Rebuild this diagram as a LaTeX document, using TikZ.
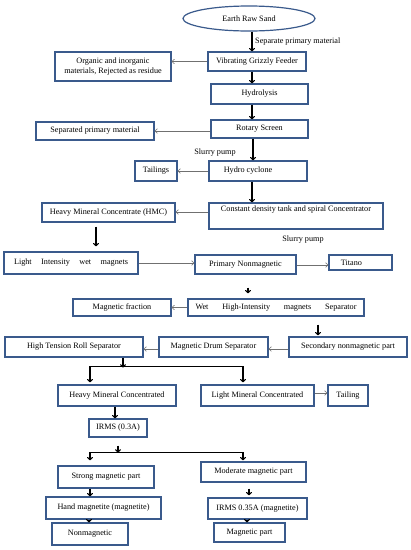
\documentclass[tikz,border=0pt]{standalone}
\usepackage{fontspec}
\setmainfont{Liberation Serif}
\usetikzlibrary{shapes.geometric,arrows.meta}
\definecolor{boxblue}{HTML}{3A5A8C}
\definecolor{thinarrow}{HTML}{707070}
\tikzset{
  box/.style={draw=boxblue,line width=1.2pt,inner sep=0pt,align=center,font=\fontsize{8.2}{10}\selectfont},
  va/.style={draw=black,line width=1.1pt,-{To[length=3.5pt,width=6pt]}},
  ha/.style={draw=thinarrow,line width=0.6pt,-{To[length=3pt,width=5pt]}},
  bar/.style={draw=black,line width=1.2pt},
  lbl/.style={inner sep=0pt,font=\fontsize{8.2}{10}\selectfont}
}
\begin{document}
\begin{tikzpicture}[x=1pt,y=-1pt]
\useasboundingbox (0,0) rectangle (411,550);
\fill[white] (0,0) rectangle (411,550);
% nodes
\node[box,ellipse,minimum width=132,minimum height=25] (ers) at (249,18.5) {Earth Raw Sand};
\node[box,minimum width=98,minimum height=19] (vgf) at (257,61.5) {Vibrating Grizzly Feeder};
\node[box,minimum width=116,minimum height=29] (org) at (113,66.5) {Organic and inorganic\\materials, Rejected as residue};
\node[box,minimum width=97,minimum height=20] (hyd) at (259.5,94) {Hydrolysis};
\node[box,minimum width=97,minimum height=18] (rot) at (259.5,129) {Rotary Screen};
\node[box,minimum width=118,minimum height=18] (sep) at (95,131) {Separated primary material};
\node[box,minimum width=98,minimum height=20] (hc) at (258,171) {\hspace*{-20pt}Hydro cyclone};
\node[box,minimum width=42,minimum height=20] (tail) at (156,171) {Tailings};
\node[box,minimum width=174,minimum height=26] (cdt) at (296,216) {Constant density tank and spiral Concentrator\\[4pt]};
\node[box,minimum width=133,minimum height=19] (hmc) at (108.5,212.5) {Heavy Mineral Concentrate (HMC)};
\node[box,minimum width=134,minimum height=22] (liw) at (71,263) {\makebox[114pt][s]{Light Intensity wet magnets}};
\node[box,minimum width=101,minimum height=19] (pnm) at (245.5,264.5) {Primary Nonmagnetic};
\node[box,minimum width=63,minimum height=15] (tit) at (360.5,262.5) {\hspace*{-18pt}Titano};
\node[box,minimum width=176,minimum height=17] (whi) at (276,307.5) {\makebox[161pt][s]{Wet High-Intensity magnets Separator}};
\node[box,minimum width=98,minimum height=17] (mf) at (122,307.5) {Magnetic fraction};
\node[box,minimum width=118,minimum height=20] (snm) at (348,347) {Secondary nonmagnetic part};
\node[box,minimum width=109,minimum height=20] (mds) at (213.5,347) {Magnetic Drum Separator};
\node[box,minimum width=138,minimum height=20] (htr) at (74,347) {High Tension Roll Separator};
\node[box,minimum width=118,minimum height=21] (heavy) at (117,395.5) {Heavy Mineral Concentrated};
\node[box,minimum width=113,minimum height=21] (light) at (257.5,395.5) {Light Mineral Concentrated};
\node[box,minimum width=40,minimum height=21] (tailing) at (348,395.5) {Tailing};
\node[box,minimum width=58,minimum height=18] (irms) at (118,428) {IRMS (0.3A)};
\node[box,minimum width=96,minimum height=22] (strong) at (106,477) {Strong magnetic part};
\node[box,minimum width=105,minimum height=20] (mod) at (253.5,472) {Moderate magnetic part};
\node[box,minimum width=115,minimum height=22] (hand) at (103.5,508) {Hand magnetite (magnetite)};
\node[box,minimum width=76,minimum height=22] (non) at (90,534) {Nonmagnetic};
\node[box,minimum width=99,minimum height=21] (irms2) at (257.5,508.5) {IRMS 0.35A (magnetite)};
\node[box,minimum width=71,minimum height=19] (mp) at (249.5,532.5) {Magnetic part};
% labels
\node[lbl,anchor=west] (l1) at (255,42) {Separate primary material};
\node[lbl] (l2) at (215,153) {Slurry pump};
\node[lbl] (l3) at (303,240) {Slurry pump};
% vertical arrows
\draw[va] ([xshift=3pt]ers.south) -- ([xshift=3pt]ers.south |- vgf.north);
\draw[va] ([xshift=-5pt]vgf.south) -- ([xshift=-5pt]vgf.south |- hyd.north);
\draw[va] ([xshift=-7.5pt]hyd.south) -- ([xshift=-7.5pt]hyd.south |- rot.north);
\draw[va] ([xshift=-6.5pt]rot.south) -- ([xshift=-6.5pt]rot.south |- hc.north);
\draw[va] ([xshift=-6pt]hc.south) -- ([xshift=-6pt]hc.south |- cdt.north);
\draw[va] ([xshift=-12.5pt,yshift=-4pt]hmc.south) -- ([xshift=-12.5pt,yshift=5pt]hmc.south |- liw.north);
\draw[va] ([xshift=2.5pt,yshift=-13pt]pnm.south) -- ([xshift=2.5pt,yshift=5pt]pnm.south |- whi.north);
\draw[va] ([xshift=42pt,yshift=-8pt]whi.south) -- ([xshift=42pt,yshift=1pt]whi.south |- snm.north);
% split 1
\coordinate (s1) at ([xshift=49pt,yshift=-10pt]htr.south);
\draw[va] ([xshift=49pt]htr.south) -- (s1);
\draw[bar] ([xshift=-27pt,yshift=18pt]heavy.north) -- ([xshift=-14.5pt,yshift=18pt]light.north);
\draw[va] ([xshift=-27pt,yshift=18pt]heavy.north) -- ([xshift=-27pt,yshift=2pt]heavy.north);
\draw[va] ([xshift=-14.5pt,yshift=18pt]light.north) -- ([xshift=-14.5pt,yshift=2pt]light.north);
% heavy -> irms
\draw[va] ([xshift=-2pt]heavy.south) -- ([xshift=-2pt]heavy.south |- irms.north);
% split 2
\coordinate (s2) at ([yshift=-15pt]irms.south);
\draw[va] ([yshift=-8pt]irms.south) -- (s2);
\draw[bar] ([xshift=-16pt,yshift=13pt]strong.north) -- ([xshift=-10.5pt,yshift=9pt]mod.north);
\draw[va] ([xshift=-16pt,yshift=13pt]strong.north) -- ([xshift=-16pt,yshift=5pt]strong.north);
\draw[va] ([xshift=-10.5pt,yshift=9pt]mod.north) -- ([xshift=-10.5pt,yshift=1pt]mod.north);
% lower chains
\draw[va] ([xshift=-16pt]strong.south) -- ([xshift=-16pt]strong.south |- hand.north);
\draw[va] ([xshift=-1pt]non.north |- hand.south) -- ([xshift=-1pt]non.north);
\draw[va] ([xshift=-4.5pt,yshift=-6pt]mod.south) -- ([xshift=-4.5pt,yshift=2pt]mod.south |- irms2.north);
\draw[va] ([xshift=-2.5pt]mp.north |- irms2.south) -- ([xshift=-2.5pt]mp.north);
% horizontal arrows
\draw[ha] (vgf.west) -- (vgf.west -| org.east);
\draw[ha] ([yshift=-2pt]rot.west) -- ([yshift=-2pt]rot.west -| sep.east);
\draw[ha] (hc.west) -- (hc.west -| tail.east);
\draw[ha] ([yshift=4pt]cdt.west) -- ([yshift=4pt]cdt.west -| hmc.east);
\draw[ha] (liw.east) -- (liw.east -| pnm.west);
\draw[ha] ([yshift=-2.5pt]tit.west -| pnm.east) -- ([yshift=-2.5pt]tit.west);
\draw[ha] (whi.west) -- (whi.west -| mf.east);
\draw[ha] ([yshift=-2pt]snm.west) -- ([yshift=-2pt]snm.west -| mds.east);
\draw[ha] ([yshift=-2pt]mds.west) -- ([yshift=-2pt]mds.west -| htr.east);
\draw[ha] ([yshift=2.5pt]light.east) -- ([yshift=2.5pt]light.east -| tailing.west);
\end{tikzpicture}
\end{document}
